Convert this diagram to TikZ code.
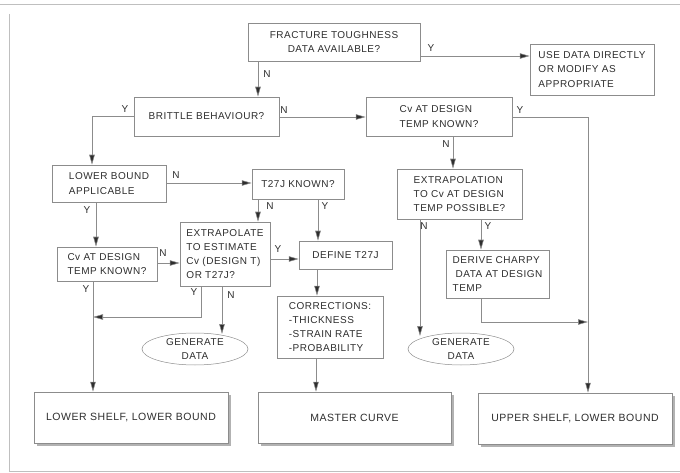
\documentclass[tikz,border=0pt]{standalone}
\usepackage{fontspec}
\setmainfont{Liberation Sans}[LetterSpace=5]
\usetikzlibrary{arrows.meta,shapes.geometric,shadows}
\definecolor{ink}{HTML}{2E2E2E}
\definecolor{edge}{HTML}{8C8C8C}
\begin{document}
\begin{tikzpicture}[x=1pt,y=-1pt,
  every node/.style={font=\fontsize{10}{14.2}\selectfont, text=ink},
  box/.style={draw=edge, line width=0.5pt, fill=white, inner sep=0pt, align=left},
  cbox/.style={box, align=center},
  endbox/.style={box, align=center, font=\fontsize{10.5}{14}\selectfont, drop shadow={shadow xshift=2.5pt, shadow yshift=-2.5pt, fill=black!30, opacity=1}},
  oval/.style={ellipse, draw=edge, line width=0.5pt, inner sep=0pt, align=center},
  arr/.style={draw=edge, line width=0.55pt, -{Triangle[length=10pt,width=5.5pt,fill=ink]}},
  lab/.style={inner sep=0pt},
  frame/.style={draw=black!25, line width=0.4pt}]
\useasboundingbox (0,0) rectangle (680,473);
\draw[frame] (0,4) -- (680,4);
\draw[frame] (9,14) -- (9,471) -- (680,471);

% boxes
\node[cbox, minimum width=172, minimum height=38] (ft) at (334,42) {FRACTURE TOUGHNESS\\DATA AVAILABLE?};
\node[box, minimum width=124, minimum height=51] (use) at (592,69.5) {USE DATA DIRECTLY\\OR MODIFY AS\\APPROPRIATE};
\node[cbox, minimum width=145, minimum height=39] (brit) at (206.5,116.5) {BRITTLE BEHAVIOUR?};
\node[box, minimum width=146, minimum height=39] (cvr) at (439,116.5) {Cv AT DESIGN\\TEMP KNOWN?};
\node[box, minimum width=114, minimum height=37] (lb) at (109,183.5) {LOWER BOUND\\APPLICABLE};
\node[box, minimum width=92, minimum height=30] (t27) at (298,184) {T27J KNOWN?};
\node[box, minimum width=125, minimum height=50] (exn) at (459.5,194) {EXTRAPOLATION\\TO Cv AT DESIGN\\TEMP POSSIBLE?};
\node[box, minimum width=100, minimum height=34] (cvl) at (107,264) {Cv AT DESIGN\\TEMP KNOWN?};
\node[box, minimum width=90, minimum height=64] (exe) at (225,254) {EXTRAPOLATE\\TO ESTIMATE\\Cv (DESIGN T)\\OR T27J?};
\node[cbox, minimum width=93, minimum height=28] (def) at (345.5,255) {DEFINE T27J};
\node[box, minimum width=103, minimum height=48] (der) at (497.5,274) {DERIVE CHARPY\\\hspace*{3pt}DATA AT DESIGN\\TEMP};
\node[box, minimum width=106, minimum height=62] (cor) at (330,327) {CORRECTIONS:\\-THICKNESS\\-STRAIN RATE\\-PROBABILITY};
\node[oval, minimum width=106, minimum height=32] (gl) at (195,349) {GENERATE\\DATA};
\node[oval, minimum width=106, minimum height=32] (gr) at (461,349) {GENERATE\\DATA};
\node[endbox, minimum width=194, minimum height=51] (ls) at (131,417.5) {LOWER SHELF, LOWER BOUND};
\node[endbox, minimum width=193, minimum height=51] (mc) at (354.5,417.5) {MASTER CURVE};
\node[endbox, minimum width=194, minimum height=51] (us) at (575,418.5) {UPPER SHELF, LOWER BOUND};

\coordinate (j1) at (93,317);
\coordinate (j2) at (588,322);

% connectors
\draw[arr] (258,0 |- ft.south) -- (258,0 |- brit.north);
\draw[arr] (ft.east |- 0,56) -- (use.west |- 0,56);
\draw[arr] (brit.east |- 0,117) -- (cvr.west |- 0,117);
\draw[arr] (brit.west |- 0,116) -| (92,0 |- lb.north);
\draw[arr] (cvr.east |- 0,117) -| (588,0 |- us.north);
\draw[arr] (453,0 |- cvr.south) -- (453,0 |- exn.north);
\draw[arr] (lb.east |- 0,183) -- (t27.west |- 0,183);
\draw[arr] (96,0 |- lb.south) -- (96,0 |- cvl.north);
\draw[arr] (258,0 |- t27.south) -- (258,0 |- exe.north);
\draw[arr] (318,0 |- t27.south) -- (318,0 |- def.north);
\draw[arr] (cvl.east |- 0,263) -- (exe.west |- 0,263);
\draw[arr] (93,0 |- cvl.south) -- (93,0 |- ls.north);
\draw[arr] (exe.east |- 0,259) -- (def.west |- 0,259);
\draw[arr] (201,0 |- exe.south) |- (j1);
\draw[arr] (222,0 |- exe.south) -- (222,334);
\draw[arr] (317,0 |- def.south) -- (317,0 |- cor.north);
\draw[arr] (316,0 |- cor.south) -- (316,0 |- mc.north);
\draw[arr] (420,0 |- exn.south) -- (420,336);
\draw[arr] (481,0 |- exn.south) -- (481,0 |- der.north);
\draw[arr] (481,0 |- der.south) |- (j2);

% labels
\node[lab] (l1) at (267,74) {N};
\node[lab] (l2) at (431,48) {Y};
\node[lab] (l3) at (125,109) {Y};
\node[lab] (l4) at (284,110) {N};
\node[lab] (l5) at (520,110) {Y};
\node[lab] (l6) at (446,144) {N};
\node[lab] (l7) at (176,175) {N};
\node[lab] (l8) at (87,210) {Y};
\node[lab] (l9) at (270,206) {N};
\node[lab] (l10) at (325,206) {Y};
\node[lab] (l11) at (163,253) {N};
\node[lab] (l12) at (86,289) {Y};
\node[lab] (l13) at (278,249) {Y};
\node[lab] (l14) at (194,292) {Y};
\node[lab] (l15) at (231,295) {N};
\node[lab] (l16) at (424,226) {N};
\node[lab] (l17) at (488,226) {Y};
\end{tikzpicture}
\end{document}
